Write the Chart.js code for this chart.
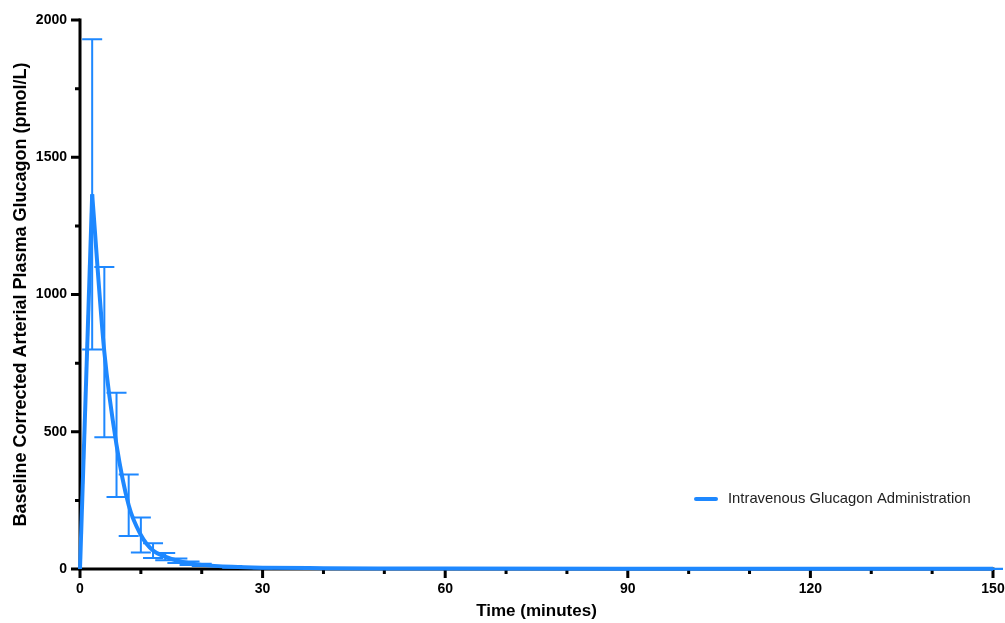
<!DOCTYPE html>
<html>
<head>
<meta charset="utf-8">
<script src="https://cdn.jsdelivr.net/npm/chart.js@4.4.1/dist/chart.umd.min.js"></script>
<style>
  html, body { margin: 0; padding: 0; background: #fff; }
  #wrap { width: 1005px; height: 623px; position: relative; }
</style>
</head>
<body>
<div id="wrap"><canvas id="chart"></canvas></div>
<script>
// time points (minutes), mean and error (half-length of bar)
const times = [0, 2, 4, 6, 8, 10, 12, 14, 16, 18, 20, 25, 30, 40, 50, 60, 90, 120, 150];
const glucagon = [0, 1365, 790, 452, 232, 124, 67, 45, 30, 21, 15, 8, 5, 3, 2, 1.5, 1, 0.5, 0.5];
const errors = [0, 565, 310, 190, 112, 64, 27, 13, 8, 6, 4, 3, 2, 1, 1, 1, 0.5, 0.5, 0.5];
const xMajor = [0, 30, 60, 90, 120, 150];
const yMajor = [0, 500, 1000, 1500, 2000];
const seriesName = 'Intravenous Glucagon Administration';

const BLUE = '#1E88FF';
const FONT = '"Liberation Sans", Arial, sans-serif';

const pts = times.map((t, i) => ({ x: t, y: glucagon[i] }));
const peak = glucagon.indexOf(Math.max(...glucagon));

// axes, tick marks (major longer than minor) and error bars, under the line
const underlay = {
  id: 'underlay',
  beforeDatasetsDraw(chart) {
    const { ctx, scales: { x, y }, chartArea: a } = chart;
    ctx.save();
    ctx.strokeStyle = '#000';
    ctx.lineWidth = 3;
    ctx.beginPath();
    ctx.moveTo(a.left, a.top - 1.5); ctx.lineTo(a.left, a.bottom);
    ctx.lineTo(a.right + 1.5, a.bottom);
    ctx.stroke();
    ctx.beginPath();
    for (let v = 0; v <= 150; v += 10) {
      const px = x.getPixelForValue(v);
      const len = xMajor.includes(v) ? 9 : 5;
      ctx.moveTo(px, a.bottom); ctx.lineTo(px, a.bottom + len);
    }
    for (let v = 0; v <= 2000; v += 250) {
      const py = y.getPixelForValue(v);
      const len = yMajor.includes(v) ? 9 : 5;
      ctx.moveTo(a.left, py); ctx.lineTo(a.left - len, py);
    }
    ctx.stroke();

    ctx.strokeStyle = BLUE;
    ctx.lineWidth = 2;
    times.forEach((t, i) => {
      if (!errors[i]) return;
      const px = x.getPixelForValue(t);
      const top = y.getPixelForValue(glucagon[i] + errors[i]);
      const bot = y.getPixelForValue(Math.max(0, glucagon[i] - errors[i]));
      ctx.beginPath();
      ctx.moveTo(px, top); ctx.lineTo(px, bot);
      ctx.moveTo(px - 10, top); ctx.lineTo(px + 10, top);
      ctx.moveTo(px - 10, bot); ctx.lineTo(px + 10, bot);
      ctx.stroke();
    });
    ctx.restore();
  },
  afterDraw(chart) {
    const { ctx } = chart;
    ctx.save();
    ctx.strokeStyle = BLUE;
    ctx.lineWidth = 4;
    ctx.lineCap = 'round';
    ctx.beginPath();
    ctx.moveTo(696, 499); ctx.lineTo(716, 499);
    ctx.stroke();
    ctx.fillStyle = '#222';
    ctx.font = '14.8px ' + FONT;
    ctx.textBaseline = 'middle';
    ctx.fillText(seriesName, 728, 499);
    ctx.restore();
  }
};

const lineClip = { left: 10, top: 10, right: 1, bottom: 10 };

new Chart(document.getElementById('chart'), {
  type: 'line',
  data: {
    datasets: [
      { label: seriesName, data: pts.slice(0, peak + 1), borderColor: BLUE, borderWidth: 4,
        pointRadius: 0, tension: 0, clip: lineClip },
      { label: seriesName, data: pts.slice(peak), borderColor: BLUE, borderWidth: 4,
        pointRadius: 0, cubicInterpolationMode: 'monotone', clip: lineClip }
    ]
  },
  options: {
    responsive: true, maintainAspectRatio: false, animation: false,
    layout: { padding: { top: 20, right: 12, left: 0, bottom: 0 } },
    plugins: { legend: { display: false }, tooltip: { enabled: false } },
    scales: {
      x: {
        type: 'linear', min: 0, max: 150,
        afterFit: (s) => { s.height = 54; },
        grid: { display: true, drawOnChartArea: false, tickLength: 12, tickColor: 'transparent' },
        border: { display: false },
        ticks: {
          stepSize: 10, autoSkip: false, maxRotation: 0, padding: 0,
          color: '#000', font: { family: FONT, size: 14, weight: 'bold' },
          callback: (v) => xMajor.includes(v) ? v : ''
        },
        title: { display: true, text: 'Time (minutes)', color: '#000',
          font: { family: FONT, size: 17, weight: 'bold' }, padding: { top: 0, bottom: 1 } }
      },
      y: {
        min: 0, max: 2000,
        afterFit: (s) => { s.width = 80; },
        grid: { display: true, drawOnChartArea: false, tickLength: 9, tickColor: 'transparent' },
        border: { display: false },
        ticks: {
          stepSize: 250, autoSkip: false, padding: 4,
          color: '#000', font: { family: FONT, size: 14, weight: 'bold' },
          callback: (v) => yMajor.includes(v) ? v : ''
        },
        title: { display: true, text: 'Baseline Corrected Arterial Plasma Glucagon (pmol/L)', color: '#000',
          font: { family: FONT, size: 18, weight: 'bold' }, padding: { top: 10, bottom: 0 } }
      }
    }
  },
  plugins: [underlay]
});
</script>
</body>
</html>
